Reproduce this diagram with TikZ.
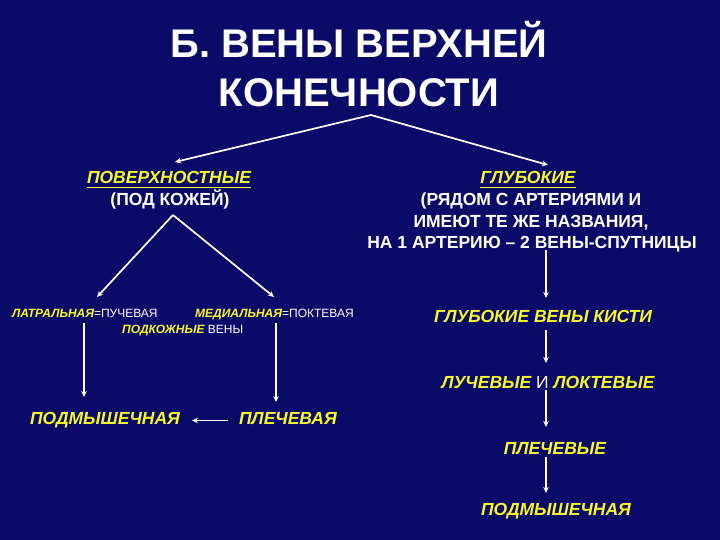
\documentclass[tikz,border=0pt]{standalone}
\usepackage{fontspec}
\setmainfont{Liberation Sans}
\usetikzlibrary{arrows.meta}
\definecolor{bg}{RGB}{10,10,104}
\definecolor{yel}{RGB}{248,248,40}
\begin{document}
\begin{tikzpicture}[x=1pt,y=-1pt,
  arr/.style={draw=white,line width=1.7pt,-{Stealth[length=6pt,width=5.5pt]}},
  ttl/.style={text=white,font=\fontsize{40}{48}\selectfont\bfseries,anchor=base,inner sep=0pt},
  yb/.style={text=yel,font=\fontsize{17.5}{21}\selectfont\bfseries\itshape,anchor=base,inner sep=0pt},
  wb/.style={text=white,font=\fontsize{17.5}{21}\selectfont\bfseries,anchor=base,inner sep=0pt},
  sm/.style={text=white,font=\fontsize{12}{14}\selectfont,anchor=base west,inner sep=0pt},
  uline/.style={draw=yel,line width=1.6pt}]
\fill[bg] (0,0) rectangle (720,540);
\useasboundingbox (0,0) rectangle (720,540);

% title
\node[ttl] (t1) at (359,58) {Б. ВЕНЫ ВЕРХНЕЙ};
\node[ttl] (t2) at (359,107) {КОНЕЧНОСТИ};
\coordinate (apex) at (371,115);

% left branch
\node[yb] (pov) at (169,184) {ПОВЕРХНОСТНЫЕ};
\draw[uline] ([yshift=-3pt]pov.south west) -- ([yshift=-3pt]pov.south east);
\node[wb] (pod) at (170,206) {(ПОД КОЖЕЙ)};
\coordinate (povtip) at (175,162);
\draw[arr] (apex) -- (povtip);

% right branch
\node[yb] (glub) at (528,184) {ГЛУБОКИЕ};
\draw[uline] ([yshift=-3pt]glub.south west) -- ([yshift=-3pt]glub.south east);
\node[wb] (r1) at (531,206) {(РЯДОМ С АРТЕРИЯМИ И};
\node[wb] (r2) at (531,227) {ИМЕЮТ ТЕ ЖЕ НАЗВАНИЯ,};
\node[wb] (r3) at (532,248) {НА 1 АРТЕРИЮ – 2 ВЕНЫ-СПУТНИЦЫ};
\coordinate (glubtip) at (548,165);
\draw[arr] (apex) -- (glubtip);

% superficial veins
\coordinate (pa) at (173,215);
\node[sm] (lat) at (12,317) {\textcolor{yel}{\bfseries\itshape ЛАТРАЛЬНАЯ}=ПУЧЕВАЯ};
\node[sm] (med) at (195,317) {\textcolor{yel}{\bfseries\itshape МЕДИАЛЬНАЯ}=ПОКТЕВАЯ};
\node[sm] (podk) at (122,333) {\textcolor{yel}{\bfseries\itshape ПОДКОЖНЫЕ} ВЕНЫ};
\coordinate (lattip) at (97,297);
\coordinate (medtip) at (274,297);
\draw[arr] (pa) -- (lattip);
\draw[arr] (pa) -- (medtip);

\node[yb] (podm1) at (105,424) {ПОДМЫШЕЧНАЯ};
\node[yb] (plech1) at (288,424) {ПЛЕЧЕВАЯ};
\coordinate (l1) at (84,323);
\coordinate (l2) at (84,397);
\coordinate (m1) at (276,323);
\coordinate (m2) at (276,402);
\draw[arr] (l1) -- (l2);
\draw[arr] (m1) -- (m2);
\coordinate (h1) at (228,420.5);
\coordinate (h2) at (192,420.5);
\draw[arr] (h1) -- (h2);

% deep veins
\node[yb] (gvk) at (543,322) {ГЛУБОКИЕ ВЕНЫ КИСТИ};
\node[yb] (lil) at (548,388) {ЛУЧЕВЫЕ \textcolor{white}{\upshape\mdseries И} ЛОКТЕВЫЕ};
\node[yb] (plech2) at (555,454) {ПЛЕЧЕВЫЕ};
\node[yb] (podm2) at (556,515) {ПОДМЫШЕЧНАЯ};
\coordinate (d0) at (546,250);
\coordinate (d1) at (546,298);
\coordinate (d2) at (546,330);
\coordinate (d3) at (546,363);
\coordinate (d4) at (546,390);
\coordinate (d5) at (546,427);
\coordinate (d6) at (546,457);
\coordinate (d7) at (546,493);
\draw[arr] (d0) -- (d1);
\draw[arr] (d2) -- (d3);
\draw[arr] (d4) -- (d5);
\draw[arr] (d6) -- (d7);
\end{tikzpicture}
\end{document}
